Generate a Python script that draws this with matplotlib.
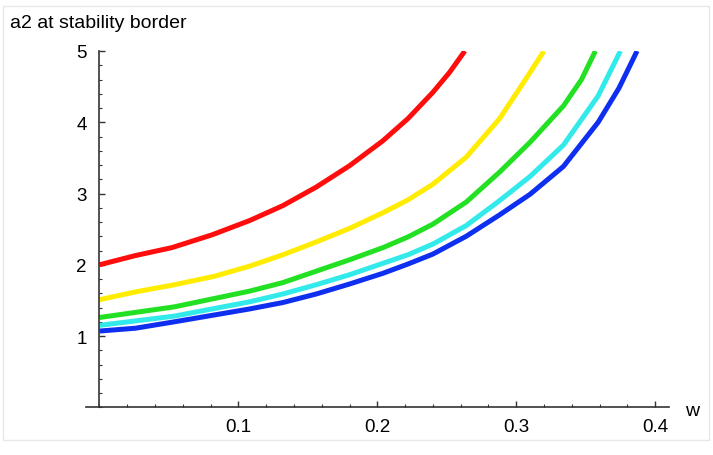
import matplotlib
matplotlib.use('Agg')
import numpy as np
import matplotlib.pyplot as plt
from matplotlib.patches import Rectangle
from matplotlib.ticker import MultipleLocator, FixedLocator

plt.rcParams['font.family'] = ['Liberation Sans', 'DejaVu Sans']

# Data: a2 at the stability border versus w
red_w = [0, 0.026, 0.052, 0.081, 0.108, 0.132, 0.156, 0.180, 0.204, 0.222, 0.240, 0.252, 0.263]
red_a = [2.0, 2.13, 2.24, 2.42, 2.62, 2.83, 3.09, 3.39, 3.74, 4.05, 4.42, 4.70, 5.0]

yellow_w = [0, 0.026, 0.054, 0.083, 0.108, 0.132, 0.156, 0.180, 0.204, 0.222, 0.240, 0.264, 0.288, 0.305, 0.320]
yellow_a = [1.51, 1.62, 1.72, 1.84, 1.98, 2.14, 2.32, 2.51, 2.73, 2.91, 3.13, 3.51, 4.05, 4.55, 5.0]

green_w = [0, 0.054, 0.108, 0.132, 0.156, 0.180, 0.204, 0.222, 0.240, 0.264, 0.288, 0.310, 0.334, 0.347, 0.357]
green_a = [1.26, 1.41, 1.63, 1.75, 1.91, 2.07, 2.24, 2.39, 2.57, 2.88, 3.30, 3.72, 4.23, 4.60, 5.0]

cyan_w = [0, 0.054, 0.108, 0.132, 0.156, 0.180, 0.204, 0.222, 0.240, 0.264, 0.288, 0.310, 0.334, 0.359, 0.375]
cyan_a = [1.15, 1.28, 1.48, 1.59, 1.72, 1.86, 2.02, 2.14, 2.29, 2.55, 2.90, 3.24, 3.68, 4.37, 5.0]

blue_w = [0, 0.026, 0.054, 0.108, 0.132, 0.156, 0.180, 0.204, 0.222, 0.240, 0.264, 0.288, 0.310, 0.334, 0.359, 0.374, 0.387]
blue_a = [1.07, 1.11, 1.20, 1.38, 1.47, 1.59, 1.73, 1.88, 2.01, 2.15, 2.40, 2.70, 2.99, 3.38, 4.00, 4.48, 5.0]

x_ticks = [0.1, 0.2, 0.3, 0.4]
y_ticks = [1, 2, 3, 4, 5]

W, H = 713, 456
fig = plt.figure(figsize=(W / 100, H / 100), dpi=100)
ax = fig.add_axes([86.3 / W, 1 - 408.3 / H, (669 - 86.3) / W, (408.3 - 52) / H])

for w, a, c in [(red_w, red_a, '#ff0d0d'),
                (yellow_w, yellow_a, '#ffec00'),
                (green_w, green_a, '#22e022'),
                (cyan_w, cyan_a, '#33eaea'),
                (blue_w, blue_a, '#0f2ff0')]:
    ax.plot(w, a, color=c, linewidth=3.6, solid_capstyle='butt', solid_joinstyle='round')

ax.set_xlim(-0.0095, 0.41)
ax.set_ylim(0, 5)

# Mathematica-like axes crossing at the origin
for s in ['top', 'right']:
    ax.spines[s].set_visible(False)
ax.spines['left'].set_position(('data', 0))
for s in ['left', 'bottom']:
    ax.spines[s].set_color('#333333')
    ax.spines[s].set_linewidth(1.2)

ax.xaxis.set_major_locator(FixedLocator(x_ticks))
ax.xaxis.set_minor_locator(MultipleLocator(0.02))
ax.yaxis.set_major_locator(FixedLocator(y_ticks))
ax.yaxis.set_minor_locator(MultipleLocator(0.2))
ax.set_xticklabels(['%.1f' % v for v in x_ticks])
ax.set_yticklabels([str(v) for v in y_ticks])
ax.tick_params(which='major', direction='in', length=4, width=1, color='#333333', labelsize=13.5)
ax.tick_params(which='minor', direction='in', length=2.5, width=0.8, color='#333333')
ax.tick_params(axis='x', which='major', pad=8)
ax.tick_params(axis='y', which='major', pad=9)

fig.text(10 / W, 1 - 28 / H, 'a2 at stability border', fontsize=14, va='baseline', ha='left')
fig.text(692 / W, 1 - 416 / H, 'w', fontsize=14, va='baseline', ha='center')

fig.patches.append(Rectangle((3 / W, 1 - 441 / H), (709 - 3) / W, (441 - 7) / H,
                             transform=fig.transFigure, fill=False,
                             edgecolor='#e8e8e8', linewidth=1))

plt.savefig('out.png', dpi=100)
